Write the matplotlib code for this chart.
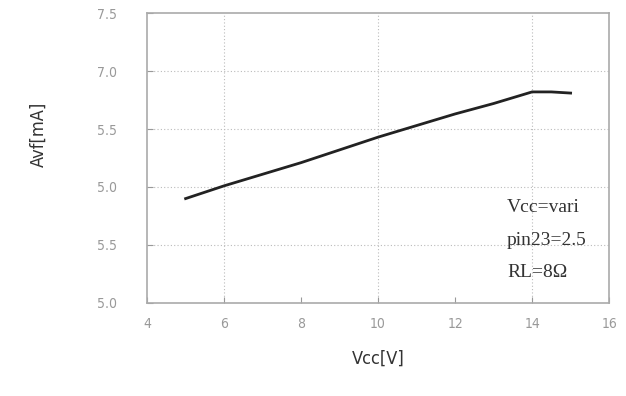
import matplotlib.pyplot as plt

# Supply voltage vs. current
vcc = [5, 6, 7, 8, 9, 10, 11, 12, 13, 13.5, 14, 14.5, 15]
avf = [5.90, 6.01, 6.11, 6.21, 6.32, 6.43, 6.53, 6.63, 6.72, 6.77, 6.82, 6.82, 6.81]

x_ticks = [4, 6, 8, 10, 12, 14, 16]
y_ticks = [5.0, 5.5, 6.0, 6.5, 7.0, 7.5]
# labels as printed in the scan
y_labels = ["5.0", "5.5", "5.0", "5.5", "7.0", "7.5"]
x_grid = [6, 10, 14]

conditions = ["Vcc=vari", "pin23=2.5", "RL=8Ω"]


def main():
    fig = plt.figure(figsize=(6.26, 3.96), dpi=100)
    ax = fig.add_axes([0.235, 0.235, 0.738, 0.732])

    ax.plot(vcc, avf, color="#222222", linewidth=2.0)

    ax.set_xlim(4, 16)
    ax.set_ylim(5.0, 7.5)

    # Dotted grid: horizontal at every tick, vertical only at a few
    for y in y_ticks[1:-1]:
        ax.axhline(y, color="#bbbbbb", linestyle=(0, (1, 2)), linewidth=0.8, zorder=0)
    for x in x_grid:
        ax.axvline(x, color="#bbbbbb", linestyle=(0, (1, 2)), linewidth=0.8, zorder=0)

    ax.set_xticks(x_ticks)
    ax.set_yticks(y_ticks)
    ax.set_yticklabels(y_labels)
    ax.tick_params(direction="in", length=4, colors="#999999", labelcolor="#999999",
                   labelsize=10)
    ax.tick_params(axis="y", pad=22)
    ax.tick_params(axis="x", pad=10)
    for lab in ax.get_xticklabels() + ax.get_yticklabels():
        lab.set_fontstretch("condensed")

    for sp in ax.spines.values():
        sp.set_color("#aaaaaa")
        sp.set_linewidth(1.2)

    ax.set_xlabel("Vcc[V]", fontsize=13, color="#333333", fontstretch="condensed")
    ax.set_ylabel("Avf[mA]", fontsize=13, color="#333333", fontstretch="condensed")
    ax.xaxis.set_label_coords(0.5, -0.16)
    ax.yaxis.set_label_coords(-0.215, 0.58)

    # Test conditions
    ys = [5.82, 5.54, 5.26]
    for txt, y in zip(conditions, ys):
        ax.text(13.35, y, txt, fontsize=14, color="#333333",
                family=["Liberation Serif", "DejaVu Serif"], va="center")

    fig.savefig("out.png", dpi=100)


if __name__ == "__main__":
    main()
